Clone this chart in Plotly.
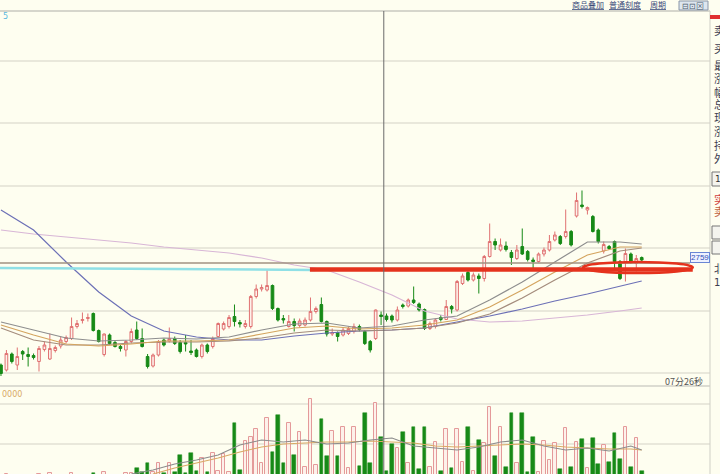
import plotly.graph_objects as go

# ---------------- data ----------------
opens = [2555, 2545, 2577, 2555, 2582, 2576, 2574, 2562, 2586, 2567,
         2584, 2593, 2602, 2608, 2632, 2644, 2648, 2658, 2624, 2576,
         2615, 2600, 2592, 2585, 2602, 2625, 2608, 2572, 2553, 2575,
         2605, 2603, 2608, 2600, 2600, 2583, 2585, 2572, 2595, 2592,
         2612, 2627, 2632, 2652, 2640, 2632, 2632, 2692, 2707, 2705,
         2714, 2668, 2648, 2632, 2642, 2634, 2635, 2645, 2662, 2676,
         2642, 2617, 2620, 2615, 2618, 2622, 2632, 2622, 2602, 2608,
         2655, 2653, 2653, 2645, 2675, 2673, 2685, 2677, 2666, 2628,
         2632, 2650, 2646, 2672, 2665, 2718, 2740, 2725, 2733, 2728,
         2772, 2802, 2785, 2793, 2780, 2768, 2792, 2782, 2765, 2762,
         2777, 2785, 2805, 2812, 2812, 2822, 2853, 2875, 2865, 2852,
         2825, 2783, 2792, 2802, 2762, 2762, 2777, 2758, 2770]
highs = [2558, 2585, 2580, 2590, 2585, 2590, 2578, 2593, 2602, 2618,
         2594, 2612, 2614, 2650, 2645, 2660, 2658, 2660, 2626, 2618,
         2618, 2604, 2595, 2605, 2628, 2642, 2628, 2577, 2578, 2605,
         2608, 2630, 2612, 2605, 2615, 2605, 2588, 2598, 2598, 2612,
         2640, 2642, 2655, 2676, 2645, 2645, 2695, 2716, 2716, 2747,
         2716, 2670, 2655, 2655, 2648, 2648, 2650, 2690, 2672, 2690,
         2644, 2628, 2622, 2630, 2632, 2638, 2636, 2625, 2605, 2666,
         2662, 2658, 2656, 2672, 2678, 2688, 2712, 2680, 2668, 2642,
         2648, 2655, 2685, 2675, 2725, 2738, 2745, 2740, 2738, 2775,
         2838, 2808, 2808, 2802, 2785, 2795, 2828, 2785, 2770, 2780,
         2790, 2815, 2822, 2815, 2866, 2825, 2900, 2904, 2872, 2855,
         2828, 2802, 2795, 2804, 2765, 2788, 2780, 2775, 2772]
lows = [2533, 2542, 2558, 2545, 2565, 2552, 2566, 2542, 2582, 2565,
        2580, 2588, 2598, 2605, 2628, 2638, 2642, 2622, 2600, 2572,
        2595, 2590, 2582, 2572, 2598, 2605, 2590, 2548, 2550, 2572,
        2592, 2600, 2595, 2578, 2582, 2575, 2570, 2568, 2578, 2588,
        2610, 2624, 2628, 2632, 2630, 2628, 2628, 2688, 2702, 2702,
        2665, 2642, 2638, 2630, 2622, 2630, 2632, 2642, 2658, 2640,
        2612, 2613, 2602, 2612, 2615, 2618, 2622, 2595, 2580, 2605,
        2635, 2642, 2640, 2642, 2668, 2670, 2677, 2662, 2625, 2625,
        2628, 2642, 2645, 2658, 2662, 2715, 2722, 2722, 2698, 2722,
        2770, 2785, 2782, 2782, 2755, 2765, 2775, 2762, 2745, 2760,
        2772, 2782, 2802, 2795, 2808, 2792, 2850, 2868, 2856, 2820,
        2798, 2778, 2785, 2745, 2725, 2722, 2758, 2742, 2760]
closes = [2538, 2578, 2562, 2572, 2577, 2572, 2570, 2588, 2595, 2588,
          2590, 2605, 2610, 2632, 2638, 2646, 2650, 2624, 2602, 2617,
          2598, 2592, 2588, 2602, 2622, 2608, 2592, 2552, 2575, 2602,
          2595, 2608, 2598, 2582, 2597, 2580, 2572, 2595, 2582, 2608,
          2638, 2638, 2650, 2642, 2637, 2638, 2692, 2707, 2710, 2714,
          2668, 2645, 2645, 2642, 2634, 2643, 2645, 2662, 2668, 2642,
          2617, 2620, 2612, 2625, 2628, 2632, 2626, 2598, 2585, 2665,
          2652, 2646, 2645, 2665, 2672, 2685, 2680, 2665, 2628, 2638,
          2645, 2646, 2672, 2667, 2722, 2733, 2725, 2735, 2728, 2772,
          2802, 2795, 2795, 2786, 2770, 2785, 2777, 2766, 2762, 2777,
          2785, 2802, 2815, 2798, 2822, 2795, 2884, 2872, 2870, 2822,
          2802, 2796, 2788, 2762, 2728, 2778, 2762, 2768, 2765]
volumes = [4200, 4800, 3900, 4500, 3600, 4100, 3500, 5200, 4300, 5400,
           3800, 4600, 4000, 5600, 4200, 4700, 3900, 5300, 4400, 6200,
           4100, 3800, 4300, 5700, 5400, 7800, 5800, 10300, 6000, 10300,
           5500, 10300, 6200, 14500, 5600, 15300, 6400, 12800, 5800, 15700,
           6600, 15000, 6000, 30700, 7000, 21500, 23300, 27300, 10300, 33200,
           16200, 34500, 10700, 30300, 14500, 26200, 8300, 42500, 9500, 32300,
           14000, 26700, 14000, 28700, 7800, 28300, 9200, 35300, 10300, 40700,
           23700, 6700, 20000, 17800, 26200, 10700, 28300, 7300, 28700, 8300,
           21200, 6700, 27300, 7800, 27500, 11200, 28700, 6700, 22000, 20300,
           38700, 14000, 28700, 8300, 35700, 10300, 35300, 6200, 23700, 6200,
           21700, 12000, 20700, 7300, 27800, 8700, 21200, 22300, 7800, 22800,
           10000, 19500, 11200, 25300, 12300, 28300, 8300, 22800, 6700]

# moving-average lines, read at every sixth session
ma_idx = [0, 6, 12, 18, 24, 30, 36, 42, 48, 54, 60, 66, 72, 78, 84, 90, 96, 102, 108, 114, 118]
ma_fast = [2641, 2625, 2609, 2603, 2605, 2609, 2607, 2611, 2625, 2637, 2639,
           2629, 2633, 2645, 2653, 2685, 2721, 2761, 2801, 2801, 2797]
ma_mid = [2635, 2615, 2597, 2593, 2597, 2603, 2603, 2605, 2617, 2629, 2633,
          2627, 2629, 2635, 2645, 2671, 2705, 2741, 2775, 2791, 2791]
ma_slow = [2629, 2605, 2595, 2595, 2599, 2601, 2601, 2603, 2609, 2619, 2625,
           2623, 2625, 2629, 2639, 2657, 2689, 2725, 2759, 2783, 2789]
ma_long = [2865, 2825, 2761, 2701, 2653, 2623, 2611, 2605, 2605, 2613, 2619,
           2623, 2625, 2629, 2641, 2653, 2667, 2683, 2697, 2713, 2723]
ma_year = [2825, 2817, 2811, 2805, 2799, 2791, 2785, 2779, 2769, 2755, 2745,
           2721, 2695, 2663, 2647, 2641, 2643, 2649, 2655, 2663, 2669]

vma5_idx = [24, 28, 32, 36, 40, 44, 48, 52, 56, 60, 64, 68, 72, 76, 80, 84, 88,
            92, 96, 100, 104, 108, 112, 116, 118]
vma5 = [5000, 7000, 10000, 12000, 14500, 19500, 22000, 21000, 22000, 20000, 20500,
        22000, 23000, 19000, 18000, 17000, 18500, 21000, 22000, 19000, 17000, 18000,
        16500, 19000, 17000]
vma10_idx = [28, 32, 36, 40, 44, 48, 52, 56, 60, 64, 68, 72, 76, 80, 84, 88,
             92, 96, 100, 104, 108, 112, 116, 118]
vma10 = [5000, 8000, 10500, 13000, 16000, 18500, 20000, 20500, 21000, 21000, 21500,
         21000, 20500, 19000, 18500, 19000, 19500, 20000, 19500, 18500, 18000, 17500,
         17500, 17000]

grid_prices = [2539, 2664, 2789, 2914, 3039, 3164]
vol_grid = [20000, 40000]
cross_index = 70.5
cross_price = 2759
cross_label = "2759"
cyan_prices = [2749, 2745]
red_price = 2746
red_start_index = 56.9
oval_index = [107.2, 127.4]
oval_price = [2739, 2761]

# ---------------- layout helpers ----------------
W, H = 720, 474
ML, MR, MT, MB = 0, 10, 11, 0
PW, PH = W - ML - MR, H - MT - MB
STEP = 5.43  # px per session


def px(xp):
    return (xp - ML) / PW


def py(yp):
    return (H - MB - yp) / PH


idx = list(range(len(opens)))
BG = "#fefef0"
UP_LINE = "#e07272"
UP_FILL = "#fdf1ea"
DOWN = "#178a17"
CJK = "Noto Sans CJK SC"

fig = go.Figure()

fig.add_trace(go.Candlestick(
    x=idx, open=opens, high=highs, low=lows, close=closes,
    increasing=dict(line=dict(color=UP_LINE, width=1), fillcolor=UP_FILL),
    decreasing=dict(line=dict(color=DOWN, width=1), fillcolor=DOWN),
    whiskerwidth=0, showlegend=False, hoverinfo="skip"))

for vals, col in [(ma_year, "#d8b6d6"), (ma_long, "#6c70b6"), (ma_slow, "#a48c7c"),
                  (ma_mid, "#d4a45e"), (ma_fast, "#8e8e8e")]:
    fig.add_trace(go.Scatter(x=ma_idx, y=vals, mode="lines",
                             line=dict(color=col, width=1.2),
                             showlegend=False, hoverinfo="skip"))

up_i = [i for i in idx if closes[i] >= opens[i]]
dn_i = [i for i in idx if closes[i] < opens[i]]
fig.add_trace(go.Bar(x=up_i, y=[volumes[i] for i in up_i], width=0.66, yaxis="y2",
                     marker=dict(color=UP_FILL, line=dict(color="#e49a9a", width=1)),
                     showlegend=False, hoverinfo="skip"))
fig.add_trace(go.Bar(x=dn_i, y=[volumes[i] for i in dn_i], width=0.66, yaxis="y2",
                     marker=dict(color=DOWN, line=dict(color=DOWN, width=0.5)),
                     showlegend=False, hoverinfo="skip"))
fig.add_trace(go.Scatter(x=vma10_idx, y=vma10, yaxis="y2", mode="lines",
                         line=dict(color="#d8aa66", width=1.1),
                         showlegend=False, hoverinfo="skip"))
fig.add_trace(go.Scatter(x=vma5_idx, y=vma5, yaxis="y2", mode="lines",
                         line=dict(color="#8c8c8c", width=1.1),
                         showlegend=False, hoverinfo="skip"))

x_lo = -0.18
x_hi = x_lo + PW / STEP

shapes = [
    # top border / separators
    dict(type="line", xref="paper", yref="paper", x0=0, x1=1, y0=1, y1=1,
         line=dict(color="#d6d6cc", width=2)),
    dict(type="line", xref="paper", yref="paper", x0=0, x1=1, y0=py(386), y1=py(386),
         line=dict(color="#dcdcd2", width=2)),
    dict(type="line", xref="paper", yref="paper", x0=1, x1=1, y0=0, y1=1,
         line=dict(color="#cfcfc6", width=1)),
    # cyan drawn line
    dict(type="line", xref="x", yref="y", x0=x_lo, x1=red_start_index + 1,
         y0=cyan_prices[0], y1=cyan_prices[1], line=dict(color="#8fe0e6", width=2.5)),
    # horizontal crosshair
    dict(type="line", xref="paper", yref="y", x0=0, x1=px(690),
         y0=cross_price, y1=cross_price, line=dict(color="#a09282", width=1.5)),
    # red drawn line and oval
    dict(type="line", xref="x", yref="y", x0=red_start_index, x1=oval_index[1],
         y0=red_price, y1=red_price, line=dict(color="#e5321d", width=4.5)),
    dict(type="circle", xref="x", yref="y", x0=oval_index[0], x1=oval_index[1],
         y0=oval_price[0], y1=oval_price[1], line=dict(color="#e5321d", width=2.5)),
    # vertical crosshair
    dict(type="line", xref="x", yref="paper", x0=cross_index, x1=cross_index,
         y0=0, y1=1, line=dict(color="#6a6a6a", width=1)),
    # toolbar button box
    dict(type="rect", xref="paper", yref="paper", x0=px(679), x1=px(708),
         y0=py(10), y1=py(1), line=dict(color="#8a96a8", width=1), fillcolor="#dde6ee"),
    # right panel bits
    dict(type="rect", xref="paper", yref="paper", x0=px(710), x1=px(721),
         y0=py(19), y1=py(15), line=dict(width=0), fillcolor="#e03030"),
    dict(type="rect", xref="paper", yref="paper", x0=px(712), x1=px(723),
         y0=py(186), y1=py(172), line=dict(color="#777", width=1), fillcolor="#f4f4ee"),
    dict(type="rect", xref="paper", yref="paper", x0=px(712), x1=px(723),
         y0=py(239), y1=py(226), line=dict(color="#777", width=1), fillcolor="#f4f4ee"),
    dict(type="rect", xref="paper", yref="paper", x0=px(712), x1=px(723),
         y0=py(254), y1=py(241), line=dict(color="#777", width=1), fillcolor="#f4f4ee"),
]

ann = []


def txt(text, xp, yp, size=9, color="#333", anchor="center", font=CJK):
    ann.append(dict(text=text, xref="paper", yref="paper", x=px(xp), y=py(yp),
                    xanchor=anchor, yanchor="middle", showarrow=False,
                    font=dict(size=size, color=color, family=font)))


txt("<u>商品叠加</u>", 588, 5, 8, "#3a4a7a")
txt("<u>普通刻度</u>", 625, 5, 8, "#3a4a7a")
txt("<u>周期</u>", 658, 5, 8, "#3a4a7a")
txt("⊟⊡⊠", 693, 5.5, 8, "#506070")
txt("5", 1, 17, 8, "#5ab8de", "left", "DejaVu Sans")
txt("0000", 0, 394, 8, "#d8aa66", "left", "DejaVu Sans")
txt("07分26秒", 705, 381, 9, "#555555", "right")
for ch, yy in [("卖", 30), ("买", 48), ("最", 65), ("涨", 78), ("幅", 92), ("总", 104),
               ("现", 117), ("涨", 131), ("持", 145), ("外", 158)]:
    txt(ch, 712, yy, 11, "#3c3c50", "left")
txt("1", 713, 179, 9, "#333", "left", "DejaVu Sans")
txt("实", 712, 199, 11, "#d04040", "left")
txt("卖", 712, 211, 11, "#c06040", "left")
txt("北", 712, 268, 11, "#3c3c50", "left")
txt("14", 712, 282, 10, "#3c3c50", "left", "DejaVu Sans")

ann.append(dict(text=cross_label, xref="paper", yref="y", x=1, y=cross_price, yshift=6,
                xanchor="right", yanchor="middle", showarrow=False,
                font=dict(size=8, color="#2f4fb8", family="Liberation Sans"),
                bgcolor="#eef2ff", bordercolor="#6a86d4", borderwidth=1, borderpad=0))

fig.update_layout(
    width=W, height=H,
    margin=dict(l=ML, r=MR, t=MT, b=MB),
    paper_bgcolor=BG, plot_bgcolor=BG,
    barmode="overlay", bargap=0, hovermode=False,
    xaxis=dict(range=[x_lo, x_hi], showgrid=False, showticklabels=False, zeroline=False,
               showline=False, ticks="", rangeslider=dict(visible=False), fixedrange=True),
    yaxis=dict(domain=[py(386), 1], range=[2513, 3263], tickvals=grid_prices,
               showticklabels=False, ticks="", gridcolor="#e9e8db", gridwidth=1.5,
               zeroline=False, showline=False, fixedrange=True),
    yaxis2=dict(domain=[0, py(386)], range=[5000, 49000], tickvals=vol_grid, anchor="x",
                showticklabels=False, ticks="", gridcolor="#e9e8db", gridwidth=1.5,
                zeroline=False, showline=False, fixedrange=True),
    shapes=shapes, annotations=ann, showlegend=False,
)

fig.write_html("out.html", config={"displayModeBar": False},
               post_script="document.body.style.margin='0px';"
                           "document.body.style.overflow='hidden';")
